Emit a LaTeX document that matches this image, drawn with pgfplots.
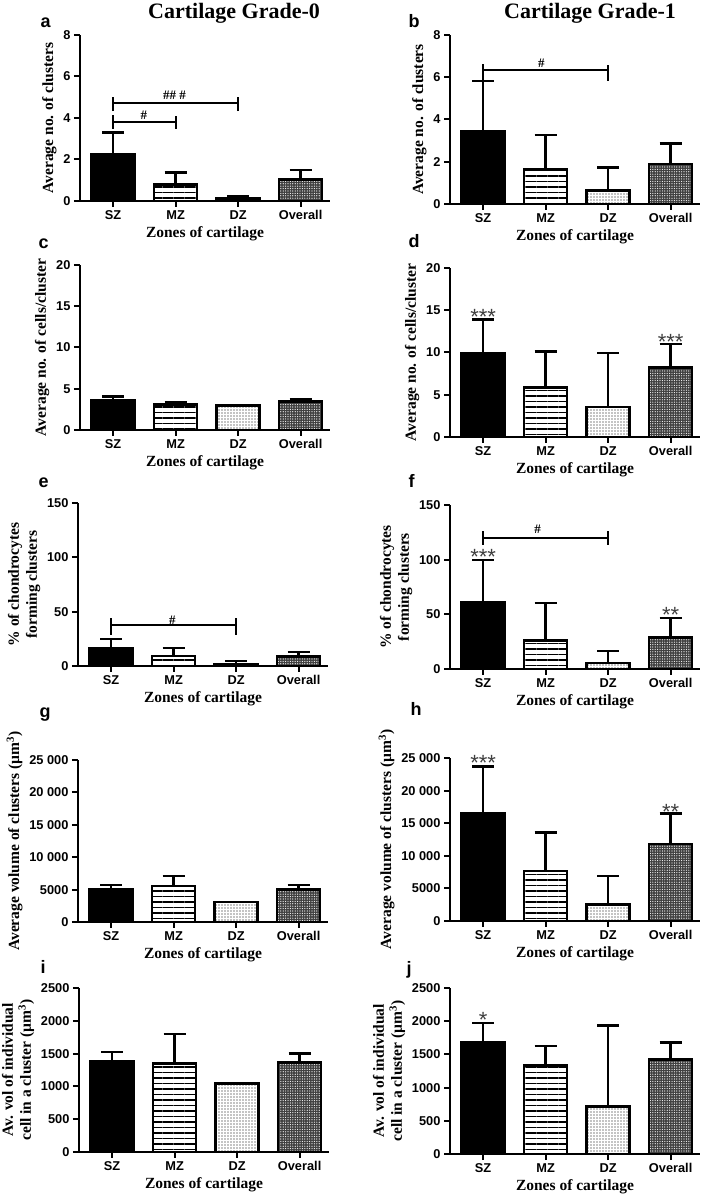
\documentclass[border=0pt]{standalone}
\usepackage{pgfplots}
\pgfplotsset{compat=1.18}
\usetikzlibrary{patterns.meta}
\usepackage{fontspec}
\setmainfont{Liberation Serif}
\newfontfamily\arial{Liberation Sans}
\newcommand\tickfont{\arial\bfseries\fontsize{12.8}{14}\selectfont}
\newcommand\labfont{\bfseries\fontsize{15.5}{18}\selectfont}
\newcommand\letfont{\arial\bfseries\fontsize{18}{20}\selectfont}
\newcommand\titfont{\bfseries\fontsize{22}{24}\selectfont}
\newcommand\sigfont{\bfseries\fontsize{13}{14}\selectfont}
\newcommand\starfont{\arial\fontsize{22}{22}\selectfont}
\pgfplotsset{
 panel/.style={scale only axis, width=250pt, xmin=-0.53, xmax=3.47, ymin=0, enlargelimits=false,
  axis x line*=bottom, axis y line*=left, axis line style={line width=2pt,-},
  xtick={0,1,2,3}, xticklabels={SZ,MZ,DZ,Overall}, tick align=outside, major tick length=6pt,
  tick style={line width=2pt,black}, ticklabel style={font=\tickfont},
  /pgf/number format/assume math mode=true, /pgf/number format/1000 sep={}, scaled y ticks=false,
  xlabel={Zones of cartilage}, label style={font=\labfont}, clip=false, anchor=south west,
  ylabel style={align=center}},
 barbase/.style={ybar, bar width=43pt, bar shift=0pt, draw=black, line width=2.6pt},
 sz/.style={barbase, fill=black},
 mz/.style={barbase, pattern={Lines[angle=0,distance=5.5pt,line width=1.1pt]}},
 dz/.style={barbase, pattern={Dots[distance=3pt,radius=0.55pt]}},
 ov/.style={barbase, preaction={fill=black!75}, pattern={Dots[distance=2.4pt,radius=0.6pt]}, pattern color=white},
 eb/.style={error bars/.cd, y dir=plus, y explicit, error bar style={line width=2.4pt,black,solid}, error mark options={rotate=90,line width=2.4pt,black,mark size=11pt}},
}
\begin{document}
\begin{tikzpicture}
\path[use as bounding box] (0pt,0pt) rectangle (709pt,1199pt);
\node[font=\titfont, anchor=base] at (234pt,1180pt) {Cartilage Grade-0};
\node[font=\titfont, anchor=base] at (590pt,1180pt) {Cartilage Grade-1};
\node[font=\letfont, anchor=base west] at (37pt,1171pt) {a};
\node[font=\letfont, anchor=base west] at (405pt,1171pt) {b};
\node[font=\letfont, anchor=base west] at (35pt,950pt) {c};
\node[font=\letfont, anchor=base west] at (405pt,951pt) {d};
\node[font=\letfont, anchor=base west] at (35pt,711pt) {e};
\node[font=\letfont, anchor=base west] at (405pt,711pt) {f};
\node[font=\letfont, anchor=base west] at (36pt,481pt) {g};
\node[font=\letfont, anchor=base west] at (407pt,483pt) {h};
\node[font=\letfont, anchor=base west] at (37pt,225pt) {i};
\node[font=\letfont, anchor=base west] at (403pt,224pt) {j};

% a
\begin{axis}[panel, at={(80pt,998pt)}, height=166pt, ymax=8, ytick={0,2,4,6,8}, ylabel={Average no. of clusters}]
\addplot[sz, eb] coordinates {(0,2.25) +- (0,1.05)};
\addplot[mz, eb] coordinates {(1,0.79) +- (0,0.58)};
\addplot[dz, eb] coordinates {(2,0.11) +- (0,0.13)};
\addplot[ov, eb] coordinates {(3,1.03) +- (0,0.45)};
\draw[line width=2pt] (axis cs:0,3.8) -- (axis cs:1,3.8);
\draw[line width=2pt] (axis cs:0,3.48) -- (axis cs:0,4.15);
\draw[line width=2pt] (axis cs:1,3.48) -- (axis cs:1,4.12);
\node[font=\sigfont] at (axis cs:0.49,4.14) {\#};
\draw[line width=2pt] (axis cs:0,4.7) -- (axis cs:2,4.7);
\draw[line width=2pt] (axis cs:0,4.33) -- (axis cs:0,5.02);
\draw[line width=2pt] (axis cs:2,4.33) -- (axis cs:2,5.02);
\node[font=\sigfont] at (axis cs:0.98,5.1) {\#\# \#};
\end{axis}

% b
\begin{axis}[panel, at={(450pt,995pt)}, height=169pt, ymax=8, ytick={0,2,4,6,8}, ylabel={Average no. of clusters}]
\addplot[sz, eb] coordinates {(0,3.42) +- (0,2.40)};
\addplot[mz, eb] coordinates {(1,1.64) +- (0,1.63)};
\addplot[dz, eb] coordinates {(2,0.63) +- (0,1.09)};
\addplot[ov, eb] coordinates {(3,1.89) +- (0,0.98)};
\draw[line width=2pt] (axis cs:0,6.34) -- (axis cs:2,6.34);
\draw[line width=2pt] (axis cs:0,5.84) -- (axis cs:0,6.65);
\draw[line width=2pt] (axis cs:2,5.84) -- (axis cs:2,6.6);
\node[font=\sigfont] at (axis cs:0.93,6.66) {\#};
\end{axis}

% c
\begin{axis}[panel, at={(80pt,769pt)}, height=165pt, ymax=20, ytick={0,5,10,15,20}, ylabel={Average no. of cells/cluster}]
\addplot[sz, eb] coordinates {(0,3.63) +- (0,0.44)};
\addplot[mz, eb] coordinates {(1,3.10) +- (0,0.25)};
\addplot[dz] coordinates {(2,2.94)};
\addplot[ov, eb] coordinates {(3,3.43) +- (0,0.36)};
\end{axis}

% d
\begin{axis}[panel, at={(450pt,762pt)}, height=169pt, ymax=20, ytick={0,5,10,15,20}, ylabel={Average no. of cells/cluster}]
\addplot[sz, eb] coordinates {(0,9.86) +- (0,4.03)};
\addplot[mz, eb] coordinates {(1,5.84) +- (0,4.30)};
\addplot[dz, eb] coordinates {(2,3.55) +- (0,6.39)};
\addplot[ov, eb] coordinates {(3,8.20) +- (0,2.77)};
\node[font=\starfont, text=black!75, yshift=-5pt] at (axis cs:0,14.8) {***};
\node[font=\starfont, text=black!75, yshift=-5pt] at (axis cs:3,11.8) {***};
\end{axis}

% e
\begin{axis}[panel, at={(78pt,533pt)}, height=163pt, ymax=150, ytick={0,50,100,150}, ylabel={\% of chondrocytes\\forming clusters}]
\addplot[sz, eb] coordinates {(0,16.3) +- (0,8.3)};
\addplot[mz, eb] coordinates {(1,9.2) +- (0,7.1)};
\addplot[dz, eb] coordinates {(2,1.8) +- (0,2.8)};
\addplot[ov, eb] coordinates {(3,8.6) +- (0,4.3)};
\draw[line width=2pt] (axis cs:0,37.8) -- (axis cs:2,37.8);
\draw[line width=2pt] (axis cs:0,28.6) -- (axis cs:0,44);
\draw[line width=2pt] (axis cs:2,28.6) -- (axis cs:2,44);
\node[font=\sigfont] at (axis cs:0.98,42) {\#};
\end{axis}

% f
\begin{axis}[panel, at={(450pt,530pt)}, height=164pt, ymax=150, ytick={0,50,100,150}, ylabel={\% of chondrocytes\\forming clusters}]
\addplot[sz, eb] coordinates {(0,61.2) +- (0,38.3)};
\addplot[mz, eb] coordinates {(1,26.2) +- (0,34.0)};
\addplot[dz, eb] coordinates {(2,5.5) +- (0,11.2)};
\addplot[ov, eb] coordinates {(3,28.9) +- (0,17.7)};
\draw[line width=2pt] (axis cs:0,120.2) -- (axis cs:2,120.2);
\draw[line width=2pt] (axis cs:0,113.5) -- (axis cs:0,126.6);
\draw[line width=2pt] (axis cs:2,113.5) -- (axis cs:2,126.6);
\node[font=\sigfont] at (axis cs:0.87,128) {\#};
\node[font=\starfont, text=black!75, yshift=-5pt] at (axis cs:0,107.4) {***};
\node[font=\starfont, text=black!75, yshift=-5pt] at (axis cs:3,54.2) {**};
\end{axis}

% g
\begin{axis}[panel, at={(78pt,277pt)}, height=162pt, ymax=25000, ytick={0,5000,10000,15000,20000,25000},
  yticklabels={0,5000,10 000,15 000,20 000,25 000}, ylabel={Average volume of clusters (µm\textsuperscript{3})}]
\addplot[sz, eb] coordinates {(0,5000) +- (0,722)};
\addplot[mz, eb] coordinates {(1,5567) +- (0,1495)};
\addplot[dz] coordinates {(2,3093)};
\addplot[ov, eb] coordinates {(3,5052) +- (0,670)};
\end{axis}

% h
\begin{axis}[panel, at={(450pt,278pt)}, height=163pt, ymax=25000, ytick={0,5000,10000,15000,20000,25000},
  yticklabels={0,5000,10 000,15 000,20 000,25 000}, ylabel={Average volume of clusters (µm\textsuperscript{3})}]
\addplot[sz, eb] coordinates {(0,16530) +- (0,7186)};
\addplot[mz, eb] coordinates {(1,7649) +- (0,5903)};
\addplot[dz, eb] coordinates {(2,2515) +- (0,4364)};
\addplot[ov, eb] coordinates {(3,11807) +- (0,4671)};
\node[font=\starfont, text=black!75, yshift=-5pt] at (axis cs:0,25000) {***};
\node[font=\starfont, text=black!75, yshift=-5pt] at (axis cs:3,17556) {**};
\end{axis}

% i
\begin{axis}[panel, at={(79pt,47pt)}, height=164pt, ymax=2500, ytick={0,500,1000,1500,2000,2500},
  ylabel={Av. vol of individual\\cell in a cluster (µm\textsuperscript{3})}]
\addplot[sz, eb] coordinates {(0,1378) +- (0,142)};
\addplot[mz, eb] coordinates {(1,1352) +- (0,449)};
\addplot[dz] coordinates {(2,1046)};
\addplot[ov, eb] coordinates {(3,1362) +- (0,138)};
\end{axis}

% j
\begin{axis}[panel, at={(450pt,45pt)}, height=166pt, ymax=2500, ytick={0,500,1000,1500,2000,2500},
  ylabel={Av. vol of individual\\cell in a cluster (µm\textsuperscript{3})}]
\addplot[sz, eb] coordinates {(0,1682) +- (0,291)};
\addplot[mz, eb] coordinates {(1,1330) +- (0,297)};
\addplot[dz, eb] coordinates {(2,718) +- (0,1220)};
\addplot[ov, eb] coordinates {(3,1421) +- (0,261)};
\node[font=\starfont, text=black!75, yshift=-5pt] at (axis cs:0,2098) {*};
\end{axis}
\end{tikzpicture}
\end{document}
